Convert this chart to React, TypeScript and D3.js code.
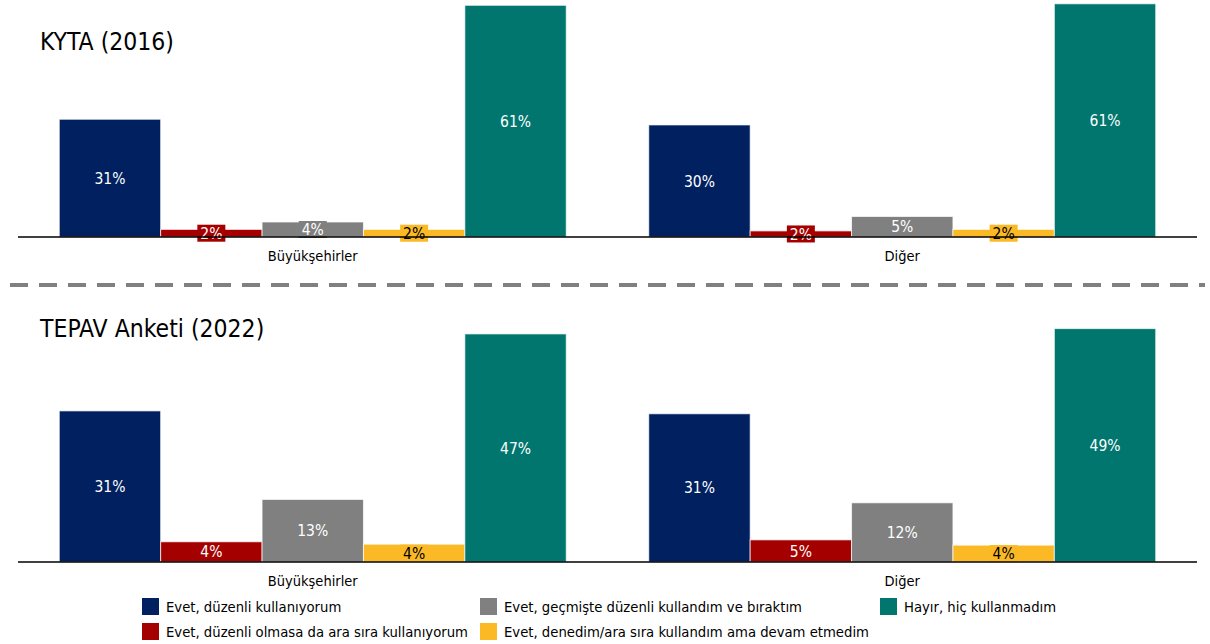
import React from "react";
import * as d3 from "d3";

const categories = ["Büyükşehirler", "Diğer"];
const seriesNames = [
  "Evet, düzenli kullanıyorum",
  "Evet, düzenli olmasa da ara sıra kullanıyorum",
  "Evet, geçmişte düzenli kullandım ve bıraktım",
  "Evet, denedim/ara sıra kullandım ama devam etmedim",
  "Hayır, hiç kullanmadım",
];
const seriesColors = ["#002060", "#A50000", "#808080", "#FBBA25", "#00766F"];
const labelColors = ["#ffffff", "#ffffff", "#ffffff", "#000000", "#ffffff"];

// values per category, order = seriesNames
const kyta2016Buyuksehir = [31.0, 2.0, 3.95, 2.0, 61.0];
const kyta2016Diger = [29.5, 1.6, 5.4, 2.0, 61.4];
const tepav2022Buyuksehir = [31.4, 4.2, 13.0, 3.7, 47.4];
const tepav2022Diger = [30.8, 4.6, 12.3, 3.5, 48.5];

const panelTitles = ["KYTA (2016)", "TEPAV Anketi (2022)"];

const FONT = "'DejaVu Sans Condensed', 'DejaVu Sans', sans-serif";

type PanelProps = {
  title: string;
  data: number[][];
  baseline: number;
  yMax: number;
  yTopPx: number;
  titleY: number;
};

function Panel({ title, data, baseline, yMax, yTopPx, titleY }: PanelProps) {
  const x0 = d3
    .scaleBand<string>()
    .domain(categories)
    .range([18, 1197])
    .paddingInner(0.14)
    .paddingOuter(0.07);
  const x1 = d3
    .scaleBand<number>()
    .domain(d3.range(seriesNames.length))
    .range([0, x0.bandwidth()])
    .padding(0);
  const y = d3.scaleLinear().domain([0, yMax]).range([baseline, yTopPx]);

  return (
    <g>
      <text x={40} y={titleY} fontSize={24.5} fill="#000" fontFamily={FONT}>
        {title}
      </text>
      {categories.map((c, ci) => (
        <g key={c} transform={`translate(${x0(c)},0)`}>
          {data[ci].map((v, si) => {
            const bx = x1(si)!;
            const bw = x1.bandwidth();
            const top = y(v);
            return (
              <rect
                key={si}
                x={bx}
                y={top}
                width={bw}
                height={baseline - top}
                fill={seriesColors[si]}
                stroke="#ffffff"
                strokeOpacity={0.7}
                strokeWidth={1}
              />
            );
          })}
          {data[ci].map((v, si) => {
            const bx = x1(si)!;
            const bw = x1.bandwidth();
            const top = y(v);
            const cy = (top + baseline) / 2;
            const label = `${Math.round(v)}%`;
            const boxW = label.length * 9.5 + 9;
            return (
              <g key={"l" + si}>
                <rect
                  x={bx + bw / 2 - boxW / 2}
                  y={cy - 8.5}
                  width={boxW}
                  height={17}
                  fill={seriesColors[si]}
                />
                <text
                  x={bx + bw / 2}
                  y={cy}
                  dy="0.36em"
                  textAnchor="middle"
                  fontSize={15.5}
                  fill={labelColors[si]}
                  fontFamily={FONT}
                >
                  {label}
                </text>
              </g>
            );
          })}
          <text
            x={x0.bandwidth() / 2}
            y={baseline + 19}
            dy="0.35em"
            textAnchor="middle"
            fontSize={14.5}
            fill="#000"
            fontFamily={FONT}
          >
            {c}
          </text>
        </g>
      ))}
      <line x1={18} x2={1197} y1={baseline} y2={baseline} stroke="#000" strokeWidth={1.5} />
    </g>
  );
}

export default function App() {
  const legendItems = [
    { si: 0, x: 142, y: 598 },
    { si: 2, x: 480, y: 598 },
    { si: 4, x: 880, y: 598 },
    { si: 1, x: 142, y: 623 },
    { si: 3, x: 480, y: 623 },
  ];
  return (
    <svg
      width={1210}
      height={644}
      style={{ position: "absolute", left: 0, top: 0, background: "#fff" }}
    >
      <rect width={1210} height={644} fill="#fff" />
      <Panel
        title={panelTitles[0]}
        data={[kyta2016Buyuksehir, kyta2016Diger]}
        baseline={237}
        yMax={62.4}
        yTopPx={0}
        titleY={50}
      />
      <line
        x1={10}
        x2={1205}
        y1={285}
        y2={285}
        stroke="#808080"
        strokeWidth={4}
        strokeDasharray="18 11"
      />
      <Panel
        title={panelTitles[1]}
        data={[tepav2022Buyuksehir, tepav2022Diger]}
        baseline={562}
        yMax={50}
        yTopPx={562 - 50 * 4.812}
        titleY={337}
      />
      {legendItems.map((it) => (
        <g key={it.si}>
          <rect x={it.x} y={it.y} width={17} height={17} fill={seriesColors[it.si]} />
          <text
            x={it.x + 24}
            y={it.y + 8.5}
            dy="0.35em"
            fontSize={14.7}
            fill="#000"
            fontFamily={FONT}
          >
            {seriesNames[it.si]}
          </text>
        </g>
      ))}
    </svg>
  );
}
